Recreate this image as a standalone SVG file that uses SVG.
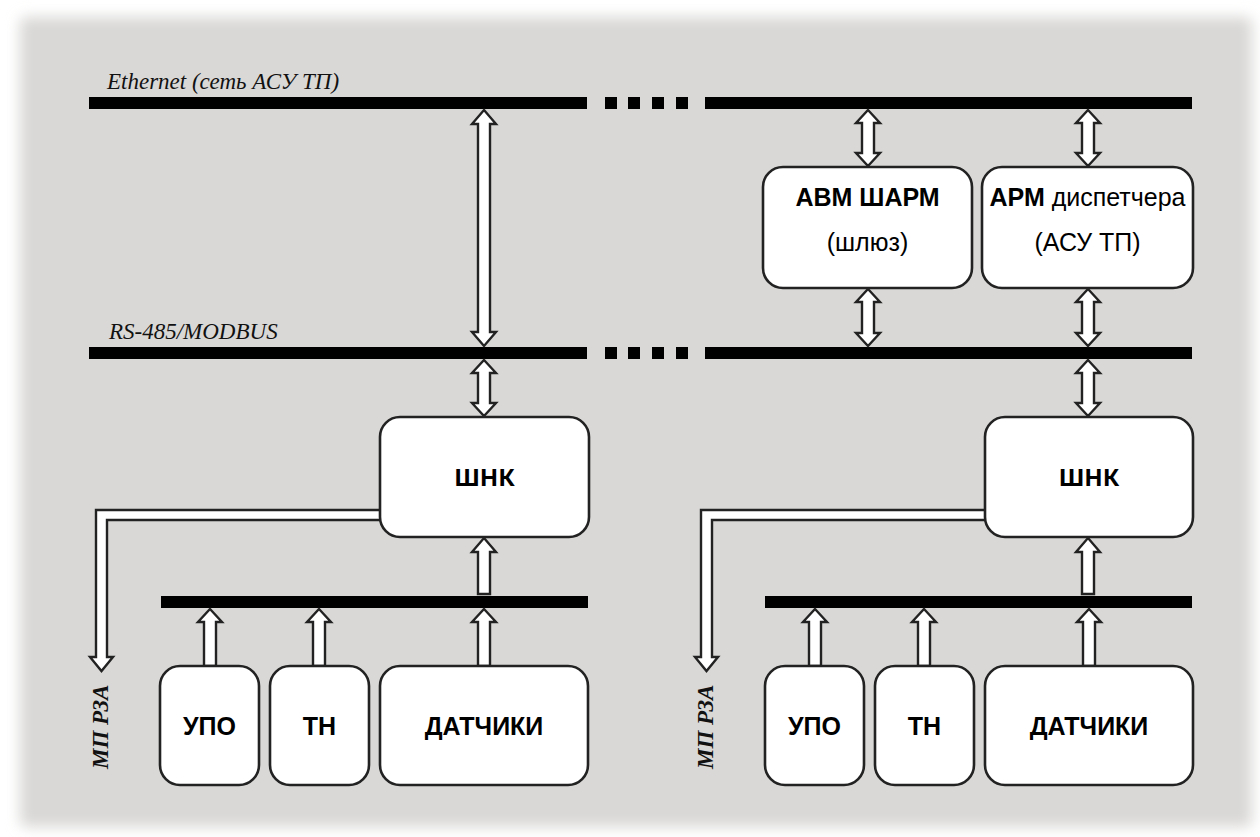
<svg xmlns="http://www.w3.org/2000/svg" width="1260" height="837" viewBox="0 0 1260 837">
  <defs>
    <filter id="soft" x="-5%" y="-5%" width="110%" height="110%">
      <feGaussianBlur stdDeviation="7"/>
    </filter>
    <style>
      .bus { fill: #000; }
      .box { fill: #fff; stroke: #222; stroke-width: 2.6; }
      .arr { fill: #fff; stroke: #222; stroke-width: 2.4; stroke-linejoin: miter; }
      .bus-label { font-family: "Liberation Serif", "Times New Roman", serif; font-style: italic; font-size: 23px; fill: #111; }
      .side-label { font-family: "Liberation Serif", "Times New Roman", serif; font-style: italic; font-weight: bold; font-size: 23px; fill: #111; }
      .t { font-family: "Liberation Sans", Arial, sans-serif; font-size: 25px; fill: #000; text-anchor: middle; }
      .b { font-weight: bold; }
      .shnk { font-family: "Noto Sans", "Open Sans", sans-serif; font-weight: bold; font-size: 24px; fill: #000; text-anchor: middle; }
    </style>
  </defs>

  <!-- background panel -->
  <rect width="1260" height="837" fill="#fff"/>
  <rect x="20" y="17" width="1232" height="810" rx="6" fill="#d9d8d6" filter="url(#soft)"/>

  <!-- buses -->
  <g id="buses">
    <g id="bus-ethernet">
      <rect class="bus" x="89" y="97" width="498" height="12"/>
      <rect class="bus" x="605" y="97" width="12" height="12"/>
      <rect class="bus" x="628" y="97" width="12" height="12"/>
      <rect class="bus" x="652" y="97" width="12" height="12"/>
      <rect class="bus" x="676" y="97" width="12" height="12"/>
      <rect class="bus" x="705" y="97" width="487" height="12"/>
      <text class="bus-label" x="107" y="89">Ethernet (сеть АСУ ТП)</text>
    </g>
    <g id="bus-rs485">
      <rect class="bus" x="89" y="347" width="498" height="12"/>
      <rect class="bus" x="605" y="347" width="12" height="12"/>
      <rect class="bus" x="628" y="347" width="12" height="12"/>
      <rect class="bus" x="652" y="347" width="12" height="12"/>
      <rect class="bus" x="676" y="347" width="12" height="12"/>
      <rect class="bus" x="705" y="347" width="487" height="12"/>
      <text class="bus-label" x="109" y="339">RS-485/MODBUS</text>
    </g>
    <rect id="bus-local-1" class="bus" x="161" y="596" width="427" height="12"/>
    <rect id="bus-local-2" class="bus" x="765" y="596" width="427" height="12"/>
  </g>

  <!-- connectors -->
  <g id="connectors">
    <!-- Ethernet to RS-485 -->
    <path class="arr" d="M484,110 L496,124 L490,124 L490,332 L496,332 L484,346 L472,332 L478,332 L478,124 L472,124 Z"/>
    <!-- Ethernet to gateway / workstation -->
    <path class="arr" d="M868,110 L880,123 L874,123 L874,153 L880,153 L868,166 L856,153 L862,153 L862,123 L856,123 Z"/>
    <path class="arr" d="M1088,110 L1100,123 L1094,123 L1094,153 L1100,153 L1088,166 L1076,153 L1082,153 L1082,123 L1076,123 Z"/>
    <!-- gateway / workstation to RS-485 -->
    <path class="arr" d="M868,289 L880,302 L874,302 L874,333 L880,333 L868,346 L856,333 L862,333 L862,302 L856,302 Z"/>
    <path class="arr" d="M1088,289 L1100,302 L1094,302 L1094,333 L1100,333 L1088,346 L1076,333 L1082,333 L1082,302 L1076,302 Z"/>
    <!-- RS-485 to ШНК -->
    <path class="arr" d="M484,360 L496,373 L490,373 L490,403 L496,403 L484,416 L472,403 L478,403 L478,373 L472,373 Z"/>
    <path class="arr" d="M1088,360 L1100,373 L1094,373 L1094,403 L1100,403 L1088,416 L1076,403 L1082,403 L1082,373 L1076,373 Z"/>
    <!-- local bus to ШНК -->
    <path class="arr" d="M484,538 L496,552 L490,552 L490,594 L478,594 L478,552 L472,552 Z"/>
    <path class="arr" d="M1088,538 L1100,552 L1094,552 L1094,594 L1082,594 L1082,552 L1076,552 Z"/>
    <!-- devices to local bus -->
    <path class="arr" d="M210,609 L222,622 L216,622 L216,666 L204,666 L204,622 L198,622 Z"/>
    <path class="arr" d="M319,609 L331,622 L325,622 L325,666 L313,666 L313,622 L307,622 Z"/>
    <path class="arr" d="M484,609 L496,622 L490,622 L490,666 L478,666 L478,622 L472,622 Z"/>
    <path class="arr" d="M815,609 L827,622 L821,622 L821,666 L809,666 L809,622 L803,622 Z"/>
    <path class="arr" d="M924,609 L936,622 L930,622 L930,666 L918,666 L918,622 L912,622 Z"/>
    <path class="arr" d="M1089,609 L1101,622 L1095,622 L1095,666 L1083,666 L1083,622 L1077,622 Z"/>
    <!-- ШНК to МП РЗА -->
    <path class="arr" d="M382,510 L96,510 L96,657 L90,657 L101.5,671 L113,657 L107,657 L107,520 L382,520 Z"/>
    <path class="arr" d="M987,510 L701,510 L701,657 L695,657 L706.5,671 L718,657 L712,657 L712,520 L987,520 Z"/>
    <text class="side-label" transform="translate(108,769) rotate(-90)">МП РЗА</text>
    <text class="side-label" transform="translate(713,769) rotate(-90)">МП РЗА</text>
  </g>

  <!-- nodes -->
  <g id="node-gateway">
    <rect class="box" x="763" y="167" width="209" height="121" rx="20"/>
    <text class="t b" x="867.5" y="206">АВМ ШАРМ</text>
    <text class="t" x="867.5" y="251">(шлюз)</text>
  </g>
  <g id="node-workstation">
    <rect class="box" x="982" y="167" width="211" height="121" rx="20"/>
    <text class="t" x="1087.5" y="206"><tspan class="b">АРМ</tspan> диспетчера</text>
    <text class="t" x="1087.5" y="251">(АСУ ТП)</text>
  </g>

  <g id="node-shnk-1">
    <rect class="box" x="380" y="417" width="209" height="120" rx="20"/>
    <text class="shnk" x="484.5" y="486">ШНК</text>
  </g>
  <g id="node-shnk-2">
    <rect class="box" x="985" y="417" width="208" height="120" rx="20"/>
    <text class="shnk" x="1089" y="486">ШНК</text>
  </g>

  <g id="node-upo-1">
    <rect class="box" x="160" y="666" width="99" height="119" rx="20"/>
    <text class="t b" x="209.5" y="735">УПО</text>
  </g>
  <g id="node-tn-1">
    <rect class="box" x="270" y="666" width="99" height="119" rx="20"/>
    <text class="t b" x="319.5" y="735">ТН</text>
  </g>
  <g id="node-sensors-1">
    <rect class="box" x="380" y="666" width="208" height="119" rx="20"/>
    <text class="t b" x="484" y="735">ДАТЧИКИ</text>
  </g>

  <g id="node-upo-2">
    <rect class="box" x="765" y="666" width="99" height="119" rx="20"/>
    <text class="t b" x="814.5" y="735">УПО</text>
  </g>
  <g id="node-tn-2">
    <rect class="box" x="875" y="666" width="99" height="119" rx="20"/>
    <text class="t b" x="924.5" y="735">ТН</text>
  </g>
  <g id="node-sensors-2">
    <rect class="box" x="985" y="666" width="208" height="119" rx="20"/>
    <text class="t b" x="1089" y="735">ДАТЧИКИ</text>
  </g>
</svg>
